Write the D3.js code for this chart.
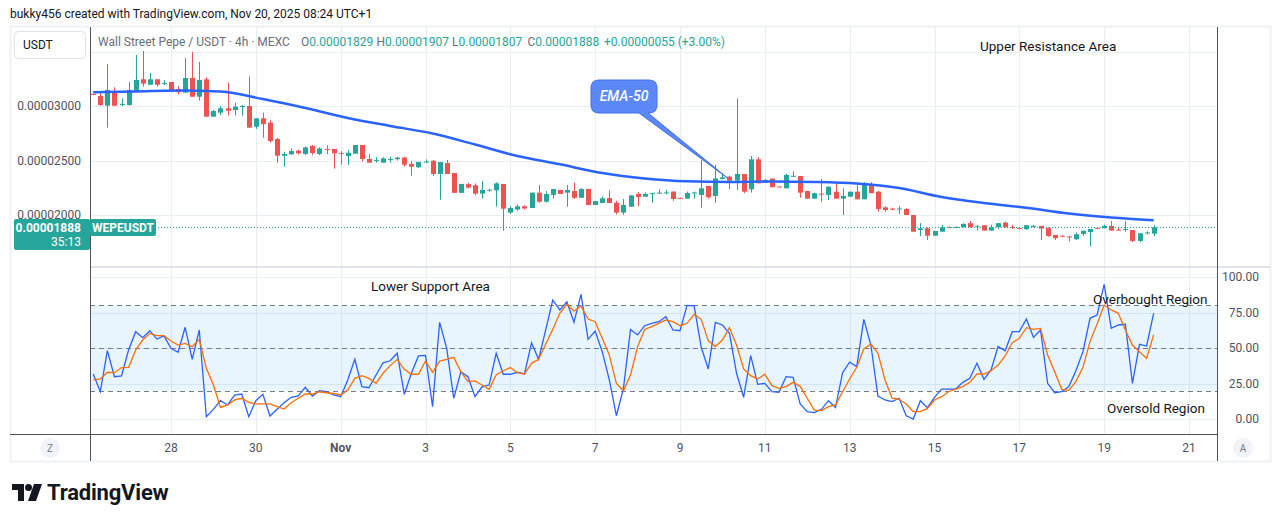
<!DOCTYPE html>
<html>
<head>
<meta charset="utf-8">
<script src="https://cdn.jsdelivr.net/npm/d3@7"></script>
<style>
  body { margin: 0; background: #fff; }
  text { font-family: Roboto, "Noto Sans", sans-serif; }
</style>
</head>
<body>
<div id="chart"></div>
<script>
// prices are stored as units of 0.00000001 USDT
var open = [3110,3092,3003,3138,3010,3009,3138,3245,3195,3245,3205,3220,3156,3122,3257,3085,3245,2902,2939,2979,
  2963,2995,3000,2810,2887,2847,2697,2544,2557,2590,2560,2633,2560,2605,2606,2570,2541,2562,2642,2514,
  2498,2480,2505,2512,2527,2468,2438,2485,2498,2376,2477,2385,2203,2283,2273,2196,2225,2227,2284,2022,
  2050,2080,2064,2205,2122,2184,2230,2205,2220,2158,2239,2092,2110,2156,2113,2022,2076,2193,2168,2198,
  2200,2203,2215,2155,2150,2200,2184,2266,2175,2330,2352,2315,2376,2236,2511,2297,2334,2262,2245,2355,
  2358,2220,2150,2196,2184,2214,2150,2168,2214,2144,2285,2214,2070,2058,2052,2055,2000,1862,1878,1810,
  1847,1890,1885,1887,1925,1890,1906,1857,1887,1930,1890,1880,1870,1895,1900,1880,1817,1810,1803,1778,
  1826,1844,1882,1878,1900,1866,1866,1862,1762,1835,1829];
var high = [3115,3122,3385,3172,3070,3220,3468,3505,3305,3245,3240,3220,3183,3440,3495,3404,3263,2965,3000,3214,
  3030,3010,3270,2887,2940,2870,2706,2580,2610,2600,2630,2642,2620,2640,2606,2585,2595,2642,2642,2557,
  2530,2530,2535,2535,2535,2498,2487,2510,2505,2486,2505,2385,2285,2295,2290,2312,2240,2300,2284,2080,
  2095,2090,2205,2275,2220,2239,2230,2275,2297,2245,2239,2128,2170,2226,2130,2147,2180,2210,2208,2205,
  2235,2230,2215,2160,2215,2215,2505,2266,2460,2382,2360,3070,2376,2541,2530,2330,2334,2262,2380,2400,
  2358,2220,2205,2330,2260,2303,2245,2214,2275,2300,2300,2220,2080,2067,2082,2062,2000,1925,1887,1853,
  1910,1895,1895,1925,1945,1910,1906,1910,1925,1940,1910,1885,1906,1910,1900,1887,1817,1812,1803,1840,
  1856,1872,1890,1910,1945,1885,1945,1862,1832,1850,1907];
var low = [3100,3003,2801,3000,3000,3003,3130,3177,3195,3177,3190,3130,3107,3122,3085,3050,2902,2902,2915,2915,
  2915,2910,2801,2790,2710,2665,2480,2443,2550,2555,2550,2548,2550,2557,2425,2462,2460,2562,2490,2480,
  2480,2480,2480,2500,2443,2360,2430,2480,2358,2140,2376,2203,2203,2245,2180,2150,2215,2076,1856,2010,
  2040,2052,2064,2113,2113,2150,2193,2076,2147,2158,2092,2092,2110,2110,2005,2000,2076,2080,2168,2113,
  2198,2190,2130,2148,2150,2150,2067,2150,2113,2328,2235,2230,2200,2205,2291,2297,2255,2255,2245,2352,
  2158,2150,2150,2122,2137,2150,2000,2168,2144,2144,2200,2030,2030,2042,2008,2000,1847,1807,1770,1810,
  1847,1880,1880,1887,1887,1857,1857,1857,1870,1887,1870,1870,1862,1885,1770,1800,1770,1800,1757,1770,
  1810,1710,1875,1878,1857,1857,1847,1750,1750,1820,1807];
var close = [3105,3009,3147,3003,3020,3147,3239,3205,3245,3195,3212,3140,3126,3257,3085,3239,2902,2954,2979,2957,
  2994,3000,2801,2887,2835,2679,2544,2560,2587,2566,2620,2569,2610,2598,2566,2565,2571,2642,2514,2480,
  2505,2520,2515,2527,2462,2443,2487,2490,2376,2486,2376,2203,2285,2251,2196,2230,2232,2290,2058,2065,
  2080,2060,2205,2122,2193,2239,2193,2230,2158,2239,2092,2128,2153,2110,2022,2092,2180,2165,2193,2200,
  2205,2207,2147,2153,2202,2207,2245,2163,2336,2345,2315,2376,2214,2511,2291,2321,2255,2258,2367,2360,
  2205,2150,2200,2190,2260,2150,2175,2214,2144,2282,2200,2055,2046,2052,2060,2000,1847,1878,1810,1853,
  1887,1885,1890,1918,1887,1897,1857,1887,1925,1887,1885,1875,1906,1900,1875,1807,1787,1805,1798,1823,
  1856,1872,1876,1900,1857,1862,1872,1762,1832,1840,1888];

// EMA-50 read once a day (every 6th candle)
var emaIndex = [0,6,12,18,24,30,36,42,48,54,60,66,72,78,84,90,96,102,108,114,120,126,132,138,144,150];
var emaValue = [3126,3133,3142,3133,3064,2982,2890,2817,2748,2647,2541,2465,2385,2335,2309,2303,2307,2303,2289,2248,
  2165,2110,2067,2014,1977,1951];

// stochastic RSI %K (blue) and %D (orange)
var stochK = [31.7,19.2,48.1,29.8,30.3,48.6,61.5,57.3,62.2,56.3,58.5,49.8,47,64.6,42,62.7,1.6,6.8,12.9,9.9,
  16.9,17.6,1.6,12.9,17.4,2.1,6.8,11.5,15.3,16.2,22.3,16.2,19.9,19.2,16.9,15.7,27.5,42,22.7,22,
  31,39.6,41,46.3,17.4,32.2,44.4,44.8,8.7,68.1,49.8,14.6,33.3,29.8,15.7,22.7,23.9,46.3,31.5,31.5,
  32.9,31.7,53.7,42,62.7,83.8,76.8,82.6,68.1,87.8,56.1,62,47.4,27.5,2.3,21.6,63.1,59.2,65.7,67.4,
  68.5,72.1,62.7,62.2,80,79.6,50.5,35.2,68.1,66.2,60.3,32.2,15.3,44.6,24.4,25.1,19.2,18.8,29.8,29.3,
  10.6,5.2,4.5,6.8,12.9,8.2,32.6,40.1,36.9,70.2,52.1,16.2,13.4,12.2,14.6,2.3,0,12.9,8,15.3,
  21.1,21.1,21.1,25.8,28.6,39.2,27.9,34.5,51,48.1,61.5,61.5,70.4,57.5,62.7,25.1,18.5,19.2,22.8,34,
  47.4,70.9,73.2,94.8,63.8,66.2,66.7,25.1,52.6,51.4,74.4];
var stochD = [27.5,28.2,32.9,32.6,36.2,36.4,48.6,55.6,60.3,58.7,58.7,54.9,52.1,53.3,50.9,56.1,35.7,23.9,8.2,9.9,
  13.4,14.6,11.7,10.6,10.6,10.6,8.7,7,11.5,14.6,17.6,17.6,19.2,18.5,18.1,16.9,20.4,28.6,30.5,28.6,
  25.1,32.2,37.6,42,35,31.5,31.5,40.8,32.9,40.8,42,43.4,33.3,26.3,26.8,23.9,20.9,31,34,36.2,
  32.6,31.7,39.2,42,52.6,63.1,74.4,80.8,76.1,79.6,70.4,68.5,56.8,45.1,25.1,19.9,31,51,63.1,65,
  67.4,69.7,68.5,65.7,67.4,73.7,70.2,55.2,51,55.6,64.3,52.1,35.2,30.5,28.2,31.5,23.5,21.6,22.8,25.8,
  23,14.6,6.3,5.9,8.7,9.9,19.2,28.2,36.4,49.3,52.8,46.2,27.5,14.6,13.9,10.6,5.2,5.2,7.5,13.4,
  15.7,19.2,21.1,22.8,25.8,31.7,31.7,34,38,44.4,53.7,56.8,64.3,63.1,63.8,45.1,33.3,20.9,20.2,26.3,
  36.4,54.5,66.9,80.3,76.8,74.4,62.7,52.1,47.4,42.7,59.2];

var priceTicks = [2000, 2500, 3000];
var priceGrid = [2000, 2500, 3000, 3500];
var oscTicks = [0, 25, 50, 75, 100];
var dateTicks = [Date.UTC(2025,9,28), Date.UTC(2025,9,30), Date.UTC(2025,10,1), Date.UTC(2025,10,3), Date.UTC(2025,10,5),
  Date.UTC(2025,10,7), Date.UTC(2025,10,9), Date.UTC(2025,10,11), Date.UTC(2025,10,13), Date.UTC(2025,10,15),
  Date.UTC(2025,10,17), Date.UTC(2025,10,19), Date.UTC(2025,10,21)];
var dateLabels = ["28","30","Nov","3","5","7","9","11","13","15","17","19","21"];
var legendNames = ["O", "H", "L", "C"];

var firstCandle = Date.UTC(2025,9,26,4);
var step = 4 * 3600 * 1000;

var up = "#26a69a", down = "#ef5350", grid = "#e9eef4", axisText = "#50535e";

var W = 1281, H = 522;
var plot = {left: 90, right: 1217, top: 27, mid: 267, oscBottom: 434, bottom: 461};

var svg = d3.select("#chart")
    .append("svg")
        .attr("width", W)
        .attr("height", H);

svg.append("rect").attr("width", W).attr("height", H).attr("fill", "#fff");

var x = d3.scaleUtc()
    .domain([Date.UTC(2025,9,28), Date.UTC(2025,10,21)])
    .range([171, 1189]);

var y = d3.scaleLinear()
    .domain([1500, 3500])
    .range([269.5, 51.5]);

var yo = d3.scaleLinear()
    .domain([0, 100])
    .range([419, 277]);

// frame
svg.append("rect")
    .attr("x", 10.5).attr("y", 26.5)
    .attr("width", 1260).attr("height", 435)
    .attr("fill", "none").attr("stroke", "#eef1f6").attr("stroke-width", 2);

// header
svg.append("text")
    .attr("x", 10).attr("y", 18)
    .attr("font-size", 12).attr("fill", "#131722")
    .text("bukky456 created with TradingView.com, Nov 20, 2025 08:24 UTC+1");

svg.append("clipPath").attr("id", "plotclip")
    .append("rect").attr("x", plot.left).attr("y", plot.top)
    .attr("width", plot.right - plot.left).attr("height", plot.oscBottom - plot.top);

// grid
var g = svg.append("g").attr("clip-path", "url(#plotclip)");

g.selectAll(".vgrid").data(dateTicks).enter().append("line")
    .attr("x1", function(d) { return Math.round(x(d)) + 0.5; })
    .attr("x2", function(d) { return Math.round(x(d)) + 0.5; })
    .attr("y1", plot.top).attr("y2", plot.oscBottom)
    .attr("stroke", grid);

g.selectAll(".pgrid").data(priceGrid).enter().append("line")
    .attr("x1", plot.left).attr("x2", plot.right)
    .attr("y1", function(d) { return Math.round(y(d)) + 0.5; })
    .attr("y2", function(d) { return Math.round(y(d)) + 0.5; })
    .attr("stroke", grid);

g.selectAll(".ogrid").data(oscTicks).enter().append("line")
    .attr("x1", plot.left).attr("x2", plot.right)
    .attr("y1", function(d) { return Math.round(yo(d)) + 0.5; })
    .attr("y2", function(d) { return Math.round(yo(d)) + 0.5; })
    .attr("stroke", grid);

// oscillator band and levels
g.append("rect")
    .attr("x", plot.left).attr("width", plot.right - plot.left)
    .attr("y", yo(80)).attr("height", yo(20) - yo(80))
    .attr("fill", "rgba(33,150,243,0.1)");

g.selectAll(".level").data([80, 50, 20]).enter().append("line")
    .attr("x1", plot.left).attr("x2", plot.right)
    .attr("y1", function(d) { return Math.round(yo(d)) + 0.5; })
    .attr("y2", function(d) { return Math.round(yo(d)) + 0.5; })
    .attr("stroke", "#787b86").attr("stroke-dasharray", "5,4");

// candles
var candles = open.map(function(o, i) {
    return {t: firstCandle + i * step, o: o, h: high[i], l: low[i], c: close[i]};
});

var cg = g.selectAll(".candle").data(candles).enter().append("g");

cg.append("line")
    .attr("x1", function(d) { return Math.round(x(d.t)) + 0.5; })
    .attr("x2", function(d) { return Math.round(x(d.t)) + 0.5; })
    .attr("y1", function(d) { return y(d.h); })
    .attr("y2", function(d) { return y(d.l); })
    .attr("stroke", function(d) { return d.c >= d.o ? up : down; });

cg.append("rect")
    .attr("x", function(d) { return Math.round(x(d.t)) - 2; })
    .attr("width", 5)
    .attr("y", function(d) { return y(Math.max(d.o, d.c)); })
    .attr("height", function(d) { return Math.max(1, Math.abs(y(d.o) - y(d.c))); })
    .attr("fill", function(d) { return d.c >= d.o ? up : down; });

// EMA-50
var ema = emaIndex.map(function(k, i) { return [firstCandle + k * step, emaValue[i]]; });
g.append("path")
    .datum(ema)
    .attr("fill", "none").attr("stroke", "#2962ff").attr("stroke-width", 2.5)
    .attr("d", d3.line()
        .curve(d3.curveMonotoneX)
        .x(function(d) { return x(d[0]); })
        .y(function(d) { return y(d[1]); })
    );

// stochastic lines
var stochLine = d3.line()
    .x(function(d, i) { return x(firstCandle + i * step); })
    .y(function(d) { return yo(d); });

g.append("path").datum(stochK)
    .attr("fill", "none").attr("stroke", "#2962ff").attr("stroke-width", 1.3)
    .attr("d", stochLine);
g.append("path").datum(stochD)
    .attr("fill", "none").attr("stroke", "#ff6d00").attr("stroke-width", 1.3)
    .attr("d", stochLine);

// last price line
var last = close[close.length - 1];
svg.append("line")
    .attr("x1", 155).attr("x2", plot.right)
    .attr("y1", Math.round(y(last)) + 0.5).attr("y2", Math.round(y(last)) + 0.5)
    .attr("stroke", up).attr("stroke-dasharray", "1,2");

// pane borders
svg.append("line").attr("x1", plot.left).attr("x2", plot.right + 53)
    .attr("y1", plot.mid).attr("y2", plot.mid)
    .attr("stroke", "#e0e3eb").attr("stroke-width", 2);
svg.append("line").attr("x1", 10).attr("x2", plot.right)
    .attr("y1", plot.oscBottom + 0.5).attr("y2", plot.oscBottom + 0.5)
    .attr("stroke", "#50535e");
svg.append("line").attr("x1", plot.left + 0.5).attr("x2", plot.left + 0.5)
    .attr("y1", plot.top).attr("y2", plot.bottom)
    .attr("stroke", "#50535e");
svg.append("line").attr("x1", plot.right + 0.5).attr("x2", plot.right + 0.5)
    .attr("y1", plot.top).attr("y2", plot.bottom)
    .attr("stroke", "#50535e");

// price axis (left)
svg.selectAll(".ptick").data(priceTicks).enter().append("text")
    .attr("x", 81).attr("y", function(d) { return y(d) + 4; })
    .attr("text-anchor", "end").attr("font-size", 12).attr("fill", axisText)
    .text(function(d) { return (d * 1e-8).toFixed(8); });

// oscillator axis (right)
svg.selectAll(".otick").data(oscTicks).enter().append("text")
    .attr("x", 1259).attr("y", function(d) { return yo(d) + 4; })
    .attr("text-anchor", "end").attr("font-size", 12).attr("fill", axisText)
    .text(function(d) { return d.toFixed(2); });

// time axis
svg.selectAll(".ttick").data(dateTicks).enter().append("text")
    .attr("x", function(d) { return x(d); }).attr("y", 452)
    .attr("text-anchor", "middle").attr("font-size", 12).attr("fill", axisText)
    .attr("font-weight", function(d, i) { return dateLabels[i] == "Nov" ? "bold" : "normal"; })
    .text(function(d, i) { return dateLabels[i]; });

// Z / A buttons
[["Z", 50], ["A", 1243]].forEach(function(b) {
    svg.append("circle").attr("cx", b[1]).attr("cy", 448).attr("r", 10).attr("fill", "#f0f3fa");
    svg.append("text").attr("x", b[1]).attr("y", 452).attr("text-anchor", "middle")
        .attr("font-size", 10).attr("fill", "#787b86").text(b[0]);
});

// last price labels
svg.append("rect").attr("x", 14).attr("y", 219).attr("width", 76).attr("height", 31)
    .attr("rx", 2).attr("fill", up);
svg.append("text").attr("x", 81).attr("y", 232).attr("text-anchor", "end")
    .attr("font-size", 12).attr("font-weight", "bold").attr("fill", "#fff")
    .text((last * 1e-8).toFixed(8));
svg.append("text").attr("x", 81).attr("y", 246).attr("text-anchor", "end")
    .attr("font-size", 12).attr("fill", "#fff").text("35:13");
svg.append("rect").attr("x", 90).attr("y", 219).attr("width", 66).attr("height", 17)
    .attr("rx", 2).attr("fill", up);
svg.append("text").attr("x", 123).attr("y", 232).attr("text-anchor", "middle")
    .attr("font-size", 12).attr("font-weight", "bold").attr("fill", "#fff").text("WEPEUSDT");

// USDT button
svg.append("rect").attr("x", 14.5).attr("y", 31.5).attr("width", 71).attr("height", 27)
    .attr("rx", 4).attr("fill", "#fff").attr("stroke", "#e0e3eb");
svg.append("text").attr("x", 23).attr("y", 49).attr("font-size", 12).attr("fill", "#131722").text("USDT");

// legend
svg.append("text").attr("x", 98).attr("y", 46).attr("font-size", 12).attr("fill", "#6a6d78")
    .text("Wall Street Pepe / USDT · 4h · MEXC");
var series = [open, high, low, close];
series.forEach(function(s, i) {
    var t = svg.append("text").attr("x", 301 + i * 75.5).attr("y", 46).attr("font-size", 12);
    t.append("tspan").attr("fill", "#6a6d78").text(legendNames[i]);
    t.append("tspan").attr("fill", up).text((s[s.length - 1] * 1e-8).toFixed(8));
});
svg.append("text").attr("x", 604).attr("y", 46).attr("font-size", 12).attr("fill", up)
    .text("+0.00000055 (+3.00%)");

// annotations
var notes = [["Upper Resistance Area", 980, 51], ["Lower Support Area", 371, 291],
    ["Overbought Region", 1093, 304], ["Oversold Region", 1107, 413]];
svg.selectAll(".note").data(notes).enter().append("text")
    .attr("x", function(d) { return d[1]; }).attr("y", function(d) { return d[2]; })
    .attr("font-size", 13.5).attr("fill", "#131722")
    .text(function(d) { return d[0]; });

// EMA-50 callout
var tip = [x(firstCandle + 90 * step) - 2, y(emaValue[15]) - 4];
svg.append("path")
    .attr("d", "M599,80 H649 Q657,80 657,88 V105 Q657,113 649,113 H648 L" + tip[0] + "," + tip[1] +
        " L639,113 H599 Q591,113 591,105 V88 Q591,80 599,80 Z")
    .attr("fill", "#5b87f7").attr("stroke", "#3f6fe6").attr("stroke-width", 1);
svg.append("text").attr("x", 624).attr("y", 101).attr("text-anchor", "middle")
    .attr("font-size", 14).attr("font-style", "italic").attr("font-weight", 500)
    .attr("fill", "#fff").text("EMA-50");

// TradingView logo
var logo = svg.append("g").attr("fill", "#131722");
logo.append("path").attr("d", "M12,484 H24 V501 H18 V490 H12 Z");
logo.append("circle").attr("cx", 28.5).attr("cy", 487.5).attr("r", 3.5);
logo.append("path").attr("d", "M34,484 H42 L36,501 H28 Z");
svg.append("text").attr("x", 47).attr("y", 500).attr("font-size", 22)
    .attr("font-weight", "bold").attr("fill", "#131722").attr("letter-spacing", -0.2).text("TradingView");
</script>
</body>
</html>
